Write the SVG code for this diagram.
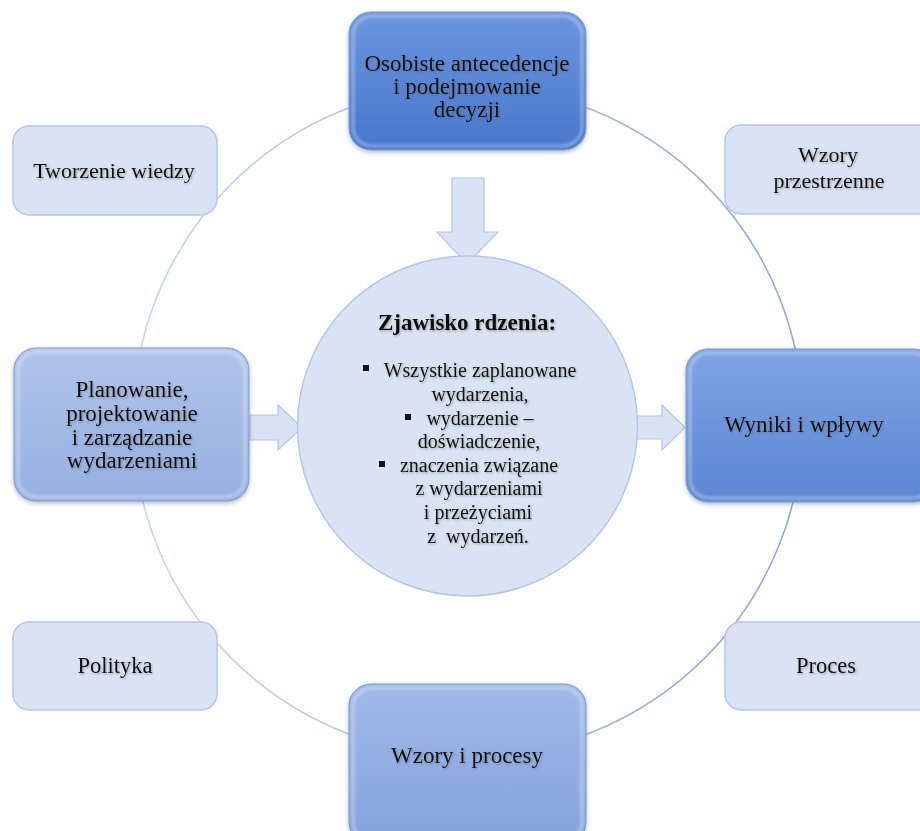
<svg xmlns="http://www.w3.org/2000/svg" width="920" height="831" viewBox="0 0 920 831">
  <defs>
    <linearGradient id="ringGrad" x1="0" y1="0" x2="1" y2="0">
      <stop offset="0" stop-color="#c9d6ef"/>
      <stop offset="1" stop-color="#8eaadc"/>
    </linearGradient>
    <linearGradient id="darkBlue" x1="0" y1="0" x2="0" y2="1">
      <stop offset="0" stop-color="#6b95de"/>
      <stop offset="1" stop-color="#4877cc"/>
    </linearGradient>
    <linearGradient id="midBlue" x1="0" y1="0" x2="0" y2="1">
      <stop offset="0" stop-color="#80a3e3"/>
      <stop offset="1" stop-color="#5b86d3"/>
    </linearGradient>
    <linearGradient id="softBlue" x1="0" y1="0" x2="0" y2="1">
      <stop offset="0" stop-color="#a0b9e8"/>
      <stop offset="1" stop-color="#84a2dc"/>
    </linearGradient>
    <linearGradient id="paleBlue" x1="0" y1="0" x2="0" y2="1">
      <stop offset="0" stop-color="#b1c4eb"/>
      <stop offset="1" stop-color="#95afe1"/>
    </linearGradient>
    <filter id="boxShadow" x="-10%" y="-10%" width="120%" height="130%">
      <feDropShadow dx="0" dy="2" stdDeviation="2" flood-color="#2d3f66" flood-opacity="0.35"/>
    </filter>
    <filter id="bevel" x="-5%" y="-5%" width="110%" height="110%">
      <feGaussianBlur stdDeviation="1.8"/>
    </filter>
    <filter id="textShadow" x="-5%" y="-20%" width="110%" height="150%">
      <feDropShadow dx="1" dy="1.2" stdDeviation="0.9" flood-color="#555" flood-opacity="0.45"/>
    </filter>
    <style>
      .ring { fill: none; stroke: url(#ringGrad); stroke-width: 1.6; }
      .pale { fill: #dae3f3; stroke: #b4c7e7; stroke-width: 1.5; }
      .blue { stroke: #7d97c9; stroke-width: 1; filter: url(#boxShadow); }
      .shine { fill: none; stroke: #ffffff; stroke-opacity: 0.35; stroke-width: 3; filter: url(#bevel); }
      .arrow { fill: #dae3f3; stroke: #b4c7e7; stroke-width: 1.2; }
      text { font-family: "Liberation Serif", "Times New Roman", serif; fill: #111; text-anchor: middle; filter: url(#textShadow); }
      .t23 { font-size: 23px; }
      .t22 { font-size: 22px; }
      .t225 { font-size: 22.5px; }
      .head { font-size: 23px; font-weight: bold; }
      .item { font-size: 20px; }
    </style>
  </defs>

  <rect width="920" height="831" fill="#ffffff"/>

  <!-- connectors: outer cycle ring and block arrows into / out of the core -->
  <g id="connectors">
    <circle class="ring" cx="468" cy="421" r="335"/>
    <polygon class="arrow" points="452,178 484,178 484,232 498,232 467,264 437,232 452,232"/>
    <polygon class="arrow" points="250,415 278,415 278,405 302,427.5 278,450 278,440 250,440"/>
    <polygon class="arrow" points="633,416 662,416 662,405 685,427.5 662,450 662,439 633,439"/>
  </g>

  <!-- satellite boxes -->
  <g id="tworzenie-wiedzy">
    <rect class="pale" x="13" y="126" width="204" height="89" rx="16"/>
    <text class="t22" x="114" y="178">Tworzenie wiedzy</text>
  </g>

  <g id="wzory-przestrzenne">
    <rect class="pale" x="725" y="125" width="215" height="89" rx="16"/>
    <text class="t22" x="828" y="162">Wzory</text>
    <text class="t22" x="829" y="188">przestrzenne</text>
  </g>

  <g id="polityka">
    <rect class="pale" x="13" y="622" width="204" height="88" rx="16"/>
    <text class="t225" x="115" y="673">Polityka</text>
  </g>

  <g id="proces">
    <rect class="pale" x="725" y="622" width="215" height="88" rx="16"/>
    <text class="t225" x="826" y="673">Proces</text>
  </g>

  <!-- main stages -->
  <g id="osobiste-antecedencje">
    <rect class="blue" x="349" y="12" width="237" height="138" rx="22" fill="url(#darkBlue)"/>
    <rect class="shine" x="353" y="16" width="229" height="130" rx="19"/>
    <text class="t23" x="467" y="71">Osobiste antecedencje</text>
    <text class="t23" x="467" y="94">i podejmowanie</text>
    <text class="t23" x="467" y="117">decyzji</text>
  </g>

  <g id="planowanie">
    <rect class="blue" x="14" y="348" width="235" height="153" rx="22" fill="url(#paleBlue)"/>
    <rect class="shine" x="18" y="352" width="227" height="145" rx="19"/>
    <text class="t23" x="132" y="397">Planowanie,</text>
    <text class="t23" x="132" y="421">projektowanie</text>
    <text class="t23" x="132" y="445">i zarządzanie</text>
    <text class="t23" x="132" y="468">wydarzeniami</text>
  </g>

  <g id="wyniki">
    <rect class="blue" x="686" y="349" width="250" height="153" rx="22" fill="url(#midBlue)"/>
    <rect class="shine" x="690" y="353" width="242" height="145" rx="19"/>
    <text class="t23" x="804" y="432">Wyniki i wpływy</text>
  </g>

  <g id="wzory-i-procesy">
    <rect class="blue" x="349" y="684" width="237" height="160" rx="22" fill="url(#softBlue)"/>
    <rect class="shine" x="353" y="688" width="229" height="152" rx="19"/>
    <text class="t23" x="467" y="763">Wzory i procesy</text>
  </g>

  <!-- core phenomenon -->
  <g id="zjawisko-rdzenia">
    <circle class="pale" cx="467.5" cy="426" r="170"/>
    <text class="head" x="467" y="330">Zjawisko rdzenia:</text>
    <rect x="363" y="365" width="6" height="6" fill="#111"/>
    <text class="item" x="480" y="377">Wszystkie zaplanowane</text>
    <text class="item" x="480" y="401">wydarzenia,</text>
    <rect x="405" y="414" width="6" height="6" fill="#111"/>
    <text class="item" x="480" y="425">wydarzenie –</text>
    <text class="item" x="479" y="448">doświadczenie,</text>
    <rect x="379" y="461" width="6" height="6" fill="#111"/>
    <text class="item" x="479" y="472">znaczenia związane</text>
    <text class="item" x="479" y="495">z wydarzeniami</text>
    <text class="item" x="478" y="519">i przeżyciami</text>
    <text class="item" x="478" y="543" xml:space="preserve">z  wydarzeń.</text>
  </g>
</svg>
